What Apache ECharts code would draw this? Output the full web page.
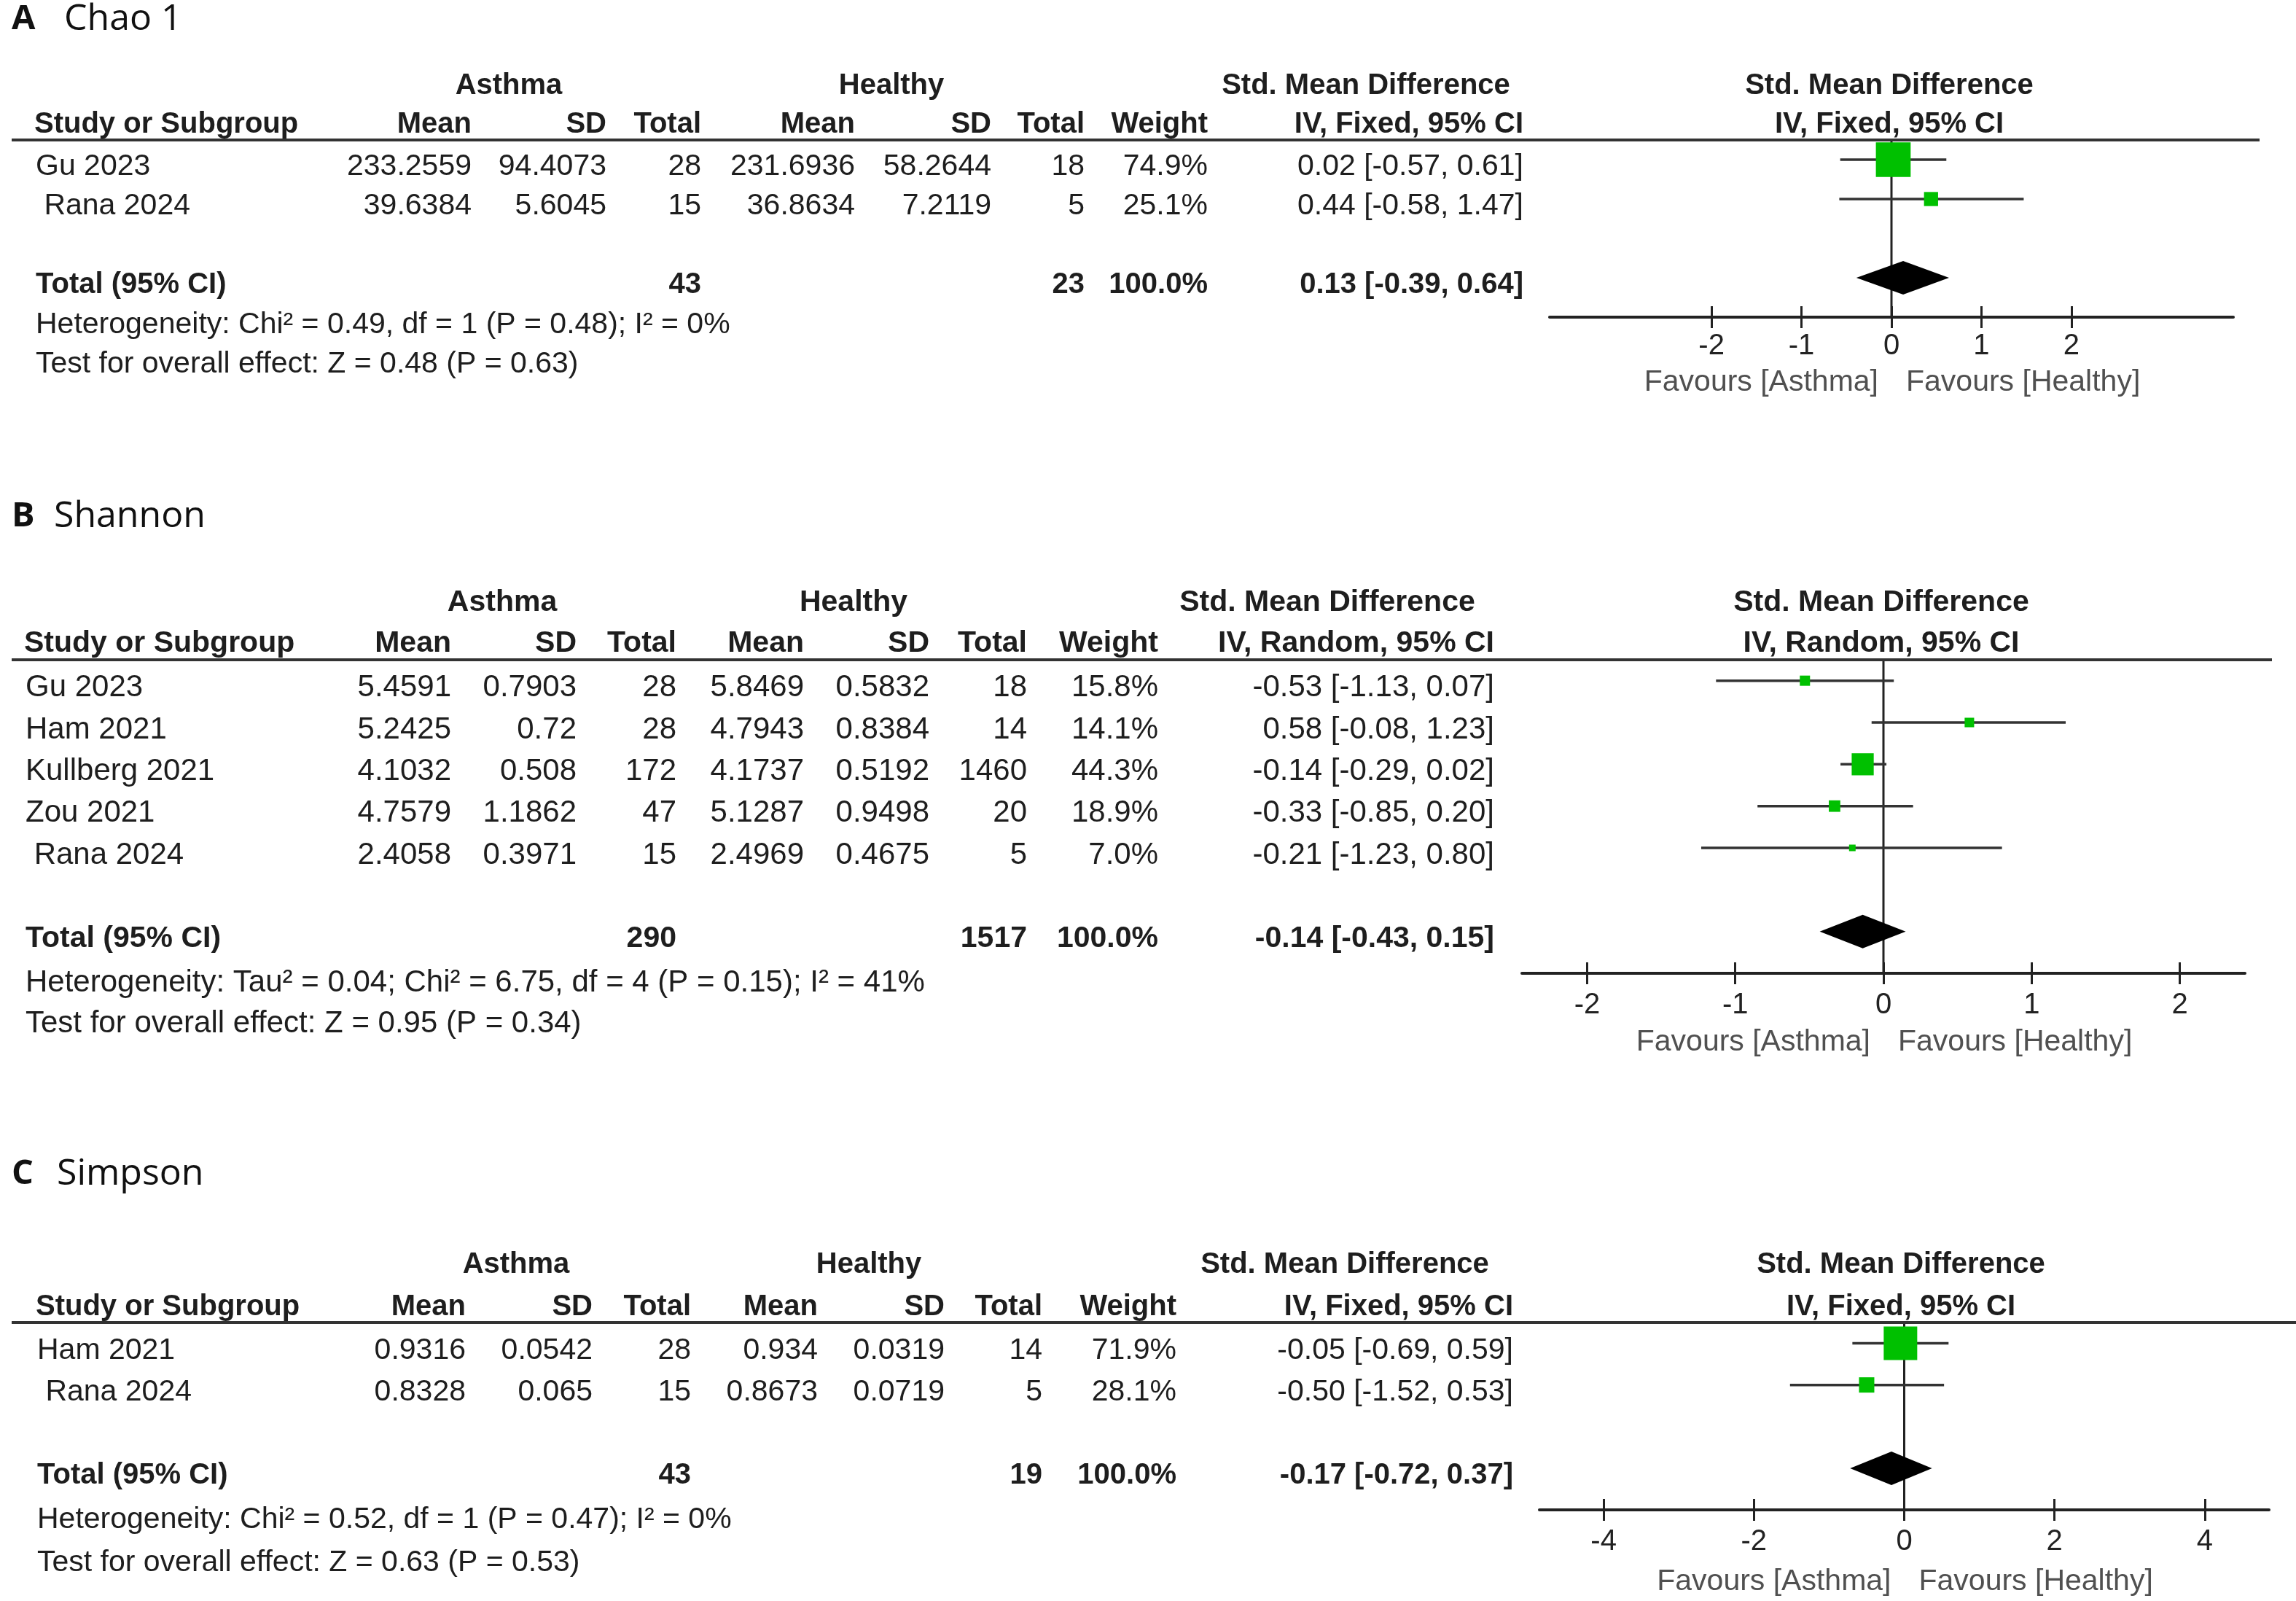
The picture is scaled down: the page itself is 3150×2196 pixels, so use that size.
<!DOCTYPE html>
<html><head><meta charset="utf-8">
<script src="https://cdn.jsdelivr.net/npm/echarts@6/dist/echarts.min.js"></script>
<style>html,body{margin:0;padding:0;background:#fff}#c{width:3150px;height:2196px}</style>
</head><body><div id="c"></div>
<script>
// ---------- Panel A: Chao 1 ----------
const studiesA = ['Gu 2023', ' Rana 2024'];
const asthmaMeanA = [233.2559, 39.6384];
const asthmaSDA = [94.4073, 5.6045];
const asthmaNA = [28, 15];
const healthyMeanA = [231.6936, 36.8634];
const healthySDA = [58.2644, 7.2119];
const healthyNA = [18, 5];
const weightA = [74.9, 25.1];
const smdA = [0.02, 0.44];
const loA = [-0.57, -0.58];
const hiA = [0.61, 1.47];
const totalA = [0.13, -0.39, 0.64];
const totalNA = [43, 23];
const hetA = 'Heterogeneity: Chi\u00b2 = 0.49, df = 1 (P = 0.48); I\u00b2 = 0%';
const testA = 'Test for overall effect: Z = 0.48 (P = 0.63)';
const ticksA = [-2, -1, 0, 1, 2];

// ---------- Panel B: Shannon ----------
const studiesB = ['Gu 2023', 'Ham 2021', 'Kullberg 2021', 'Zou 2021', ' Rana 2024'];
const asthmaMeanB = [5.4591, 5.2425, 4.1032, 4.7579, 2.4058];
const asthmaSDB = [0.7903, 0.72, 0.508, 1.1862, 0.3971];
const asthmaNB = [28, 28, 172, 47, 15];
const healthyMeanB = [5.8469, 4.7943, 4.1737, 5.1287, 2.4969];
const healthySDB = [0.5832, 0.8384, 0.5192, 0.9498, 0.4675];
const healthyNB = [18, 14, 1460, 20, 5];
const weightB = [15.8, 14.1, 44.3, 18.9, 7.0];
const smdB = [-0.53, 0.58, -0.14, -0.33, -0.21];
const loB = [-1.13, -0.08, -0.29, -0.85, -1.23];
const hiB = [0.07, 1.23, 0.02, 0.20, 0.80];
const totalB = [-0.14, -0.43, 0.15];
const totalNB = [290, 1517];
const hetB = 'Heterogeneity: Tau\u00b2 = 0.04; Chi\u00b2 = 6.75, df = 4 (P = 0.15); I\u00b2 = 41%';
const testB = 'Test for overall effect: Z = 0.95 (P = 0.34)';
const ticksB = [-2, -1, 0, 1, 2];

// ---------- Panel C: Simpson ----------
const studiesC = ['Ham 2021', ' Rana 2024'];
const asthmaMeanC = [0.9316, 0.8328];
const asthmaSDC = [0.0542, 0.065];
const asthmaNC = [28, 15];
const healthyMeanC = [0.934, 0.8673];
const healthySDC = [0.0319, 0.0719];
const healthyNC = [14, 5];
const weightC = [71.9, 28.1];
const smdC = [-0.05, -0.50];
const loC = [-0.69, -1.52];
const hiC = [0.59, 0.53];
const totalC = [-0.17, -0.72, 0.37];
const totalNC = [43, 19];
const hetC = 'Heterogeneity: Chi\u00b2 = 0.52, df = 1 (P = 0.47); I\u00b2 = 0%';
const testC = 'Test for overall effect: Z = 0.63 (P = 0.53)';
const ticksC = [-4, -2, 0, 2, 4];

const panels = [
  { letter: 'A', title: 'Chao 1', method: 'IV, Fixed, 95% CI',
    studies: studiesA, aMean: asthmaMeanA, aSD: asthmaSDA, aN: asthmaNA, hMean: healthyMeanA, hSD: healthySDA, hN: healthyNA,
    wt: weightA, smd: smdA, lo: loA, hi: hiA, tot: totalA, totN: totalNA, het: hetA, test: testA, ticks: ticksA,
    L: { top: 192, axisY: 435, left: 2126, right: 3064, lineRight: 3100, xr: 3.8, titleY: 27, titleX: 88, h1Y: 118, h2Y: 171,
         hetY: 446, testY: 500, favY: 525, lblMargin: 20, fs: 41, hfs: 40,
         c: { study: 49, aMean: 647, aSD: 832, aN: 962, hMean: 1173, hSD: 1360, hN: 1488, wt: 1657, ci: 2090 },
         h1: { asthma: 698, healthy: 1223, smd: 1874 }, pc: 2592 } },
  { letter: 'B', title: 'Shannon', method: 'IV, Random, 95% CI',
    studies: studiesB, aMean: asthmaMeanB, aSD: asthmaSDB, aN: asthmaNB, hMean: healthyMeanB, hSD: healthySDB, hN: healthyNB,
    wt: weightB, smd: smdB, lo: loB, hi: hiB, tot: totalB, totN: totalNB, het: hetB, test: testB, ticks: ticksB,
    L: { top: 905, axisY: 1335, left: 2088, right: 3080, lineRight: 3117, xr: 2.44, titleY: 709, titleX: 74, h1Y: 827, h2Y: 883,
         hetY: 1348, testY: 1404, favY: 1430, lblMargin: 24, fs: 42, hfs: 41,
         c: { study: 35, aMean: 619, aSD: 791, aN: 928, hMean: 1103, hSD: 1275, hN: 1409, wt: 1589, ci: 2050 },
         h1: { asthma: 689, healthy: 1171, smd: 1821 }, pc: 2581 } },
  { letter: 'C', title: 'Simpson', method: 'IV, Fixed, 95% CI',
    studies: studiesC, aMean: asthmaMeanC, aSD: asthmaSDC, aN: asthmaNC, hMean: healthyMeanC, hSD: healthySDC, hN: healthyNC,
    wt: weightC, smd: smdC, lo: loC, hi: hiC, tot: totalC, totN: totalNC, het: hetC, test: testC, ticks: ticksC,
    L: { top: 1814, axisY: 2071, left: 2112, right: 3113, lineRight: 3150, xr: 4.855, titleY: 1611, titleX: 78, h1Y: 1735, h2Y: 1793,
         hetY: 2085, testY: 2144, favY: 2170, lblMargin: 24, fs: 41, hfs: 40,
         c: { study: 51, aMean: 639, aSD: 813, aN: 948, hMean: 1122, hSD: 1296, hN: 1430, wt: 1614, ci: 2076 },
         h1: { asthma: 708, healthy: 1192, smd: 1845 }, pc: 2608 } }
];

const FONT = '"Liberation Sans", Arial, sans-serif';
const TXT = '#1e1e1e';
const fmtCI = (e, l, h) => e.toFixed(2) + ' [' + l.toFixed(2) + ', ' + h.toFixed(2) + ']';

const grids = [], xAxes = [], yAxes = [], series = [], graphics = [];

function txt(text, x, y, align, size, bold, color, family) {
  graphics.push({ type: 'text', silent: true, z: 10,
    style: { text: text, x: x, y: y, textAlign: align, textVerticalAlign: 'middle',
      font: (bold ? 'bold ' : '') + size + 'px ' + (family || FONT), fill: color || TXT } });
}

panels.forEach((P, k) => {
  const L = P.L, n = P.studies.length;
  const yMin = -0.5, yMax = n + 2;
  const gh = L.axisY - L.top;
  const rowY = i => L.top + (i - yMin) / (yMax - yMin) * gh + 10;

  grids.push({ left: L.left, width: L.right - L.left, top: L.top, height: gh });
  // main bottom axis: line, downward ticks, labels
  xAxes.push({ gridIndex: k, type: 'value', min: -L.xr, max: L.xr, position: 'bottom', offset: 0,
    axisLine: { show: true, onZero: false, lineStyle: { color: '#222', width: 4 } },
    axisTick: { show: true, customValues: P.ticks, length: 15, lineStyle: { color: '#222', width: 3 } },
    axisLabel: { show: true, customValues: P.ticks, margin: L.lblMargin, fontSize: 40, color: '#222', fontFamily: FONT },
    splitLine: { show: false } });
  // helper axis moved onto the bottom line: upward ticks only
  xAxes.push({ gridIndex: k, type: 'value', min: -L.xr, max: L.xr, position: 'top', offset: -gh,
    axisLine: { show: false, onZero: false },
    axisTick: { show: true, inside: false, customValues: P.ticks, length: 15, lineStyle: { color: '#222', width: 3 } },
    axisLabel: { show: false }, splitLine: { show: false } });
  yAxes.push({ gridIndex: k, type: 'value', min: yMin, max: yMax, inverse: true, show: false });

  // zero line
  series.push({ type: 'line', xAxisIndex: 2 * k, yAxisIndex: k, silent: true, symbol: 'none', z: 1,
    data: [[0, yMin], [0, yMax]], lineStyle: { color: '#222', width: 3 } });

  // study CIs and squares
  series.push({ type: 'custom', xAxisIndex: 2 * k, yAxisIndex: k, silent: true, z: 3,
    data: P.studies.map((s, i) => [P.smd[i], i, P.lo[i], P.hi[i], P.wt[i]]),
    encode: { x: [0, 2, 3], y: 1 },
    renderItem: (params, api) => {
      const y = api.value(1);
      const c = api.coord([api.value(0), y]);
      const l = api.coord([api.value(2), y]);
      const r = api.coord([api.value(3), y]);
      const sz = 5 + 0.57 * api.value(4);
      return { type: 'group', children: [
        { type: 'line', shape: { x1: l[0], y1: c[1], x2: r[0], y2: c[1] }, style: { stroke: '#333', lineWidth: 3.5 } },
        { type: 'rect', shape: { x: c[0] - sz / 2, y: c[1] - sz / 2, width: sz, height: sz }, style: { fill: '#00c000' } }
      ] };
    } });

  // pooled diamond
  series.push({ type: 'custom', xAxisIndex: 2 * k, yAxisIndex: k, silent: true, z: 4,
    data: [[P.tot[0], n + 1, P.tot[1], P.tot[2]]],
    encode: { x: [0, 2, 3], y: 1 },
    renderItem: (params, api) => {
      const y = api.value(1);
      const c = api.coord([api.value(0), y]);
      const l = api.coord([api.value(2), y]);
      const r = api.coord([api.value(3), y]);
      const hh = 23;
      return { type: 'polygon', shape: { points: [[l[0], c[1]], [c[0], c[1] - hh], [r[0], c[1]], [c[0], c[1] + hh]] },
        style: { fill: '#000' } };
    } });

  // title
  txt(P.letter, 16, L.titleY, 'left', 47, true, '#111', '"Open Sans", sans-serif');
  txt(P.title, L.titleX, L.titleY, 'left', 50, false, '#111', '"Open Sans", sans-serif');

  // headers
  const hf = L.hfs;
  txt('Asthma', L.h1.asthma, L.h1Y, 'center', hf, true);
  txt('Healthy', L.h1.healthy, L.h1Y, 'center', hf, true);
  txt('Std. Mean Difference', L.h1.smd, L.h1Y, 'center', hf, true);
  txt('Std. Mean Difference', L.pc, L.h1Y, 'center', hf, true);
  txt('Study or Subgroup', L.c.study - 2, L.h2Y, 'left', hf, true);
  txt('Mean', L.c.aMean, L.h2Y, 'right', hf, true);
  txt('SD', L.c.aSD, L.h2Y, 'right', hf, true);
  txt('Total', L.c.aN, L.h2Y, 'right', hf, true);
  txt('Mean', L.c.hMean, L.h2Y, 'right', hf, true);
  txt('SD', L.c.hSD, L.h2Y, 'right', hf, true);
  txt('Total', L.c.hN, L.h2Y, 'right', hf, true);
  txt('Weight', L.c.wt, L.h2Y, 'right', hf, true);
  txt(P.method, L.c.ci, L.h2Y, 'right', hf, true);
  txt(P.method, L.pc, L.h2Y, 'center', hf, true);

  // header rule
  graphics.push({ type: 'line', silent: true, z: 5,
    shape: { x1: 16, y1: L.top, x2: L.lineRight, y2: L.top }, style: { stroke: '#333', lineWidth: 4 } });

  // study rows
  const fs = L.fs;
  P.studies.forEach((s, i) => {
    const y = rowY(i);
    txt(s, L.c.study, y, 'left', fs);
    txt(String(P.aMean[i]), L.c.aMean, y, 'right', fs);
    txt(String(P.aSD[i]), L.c.aSD, y, 'right', fs);
    txt(String(P.aN[i]), L.c.aN, y, 'right', fs);
    txt(String(P.hMean[i]), L.c.hMean, y, 'right', fs);
    txt(String(P.hSD[i]), L.c.hSD, y, 'right', fs);
    txt(String(P.hN[i]), L.c.hN, y, 'right', fs);
    txt(P.wt[i].toFixed(1) + '%', L.c.wt, y, 'right', fs);
    txt(fmtCI(P.smd[i], P.lo[i], P.hi[i]), L.c.ci, y, 'right', fs);
  });

  // total row
  const ty = rowY(n + 1);
  txt('Total (95% CI)', L.c.study, ty, 'left', hf, true);
  txt(String(P.totN[0]), L.c.aN, ty, 'right', hf, true);
  txt(String(P.totN[1]), L.c.hN, ty, 'right', hf, true);
  txt('100.0%', L.c.wt, ty, 'right', hf, true);
  txt(fmtCI(P.tot[0], P.tot[1], P.tot[2]), L.c.ci, ty, 'right', hf, true);

  txt(P.het, L.c.study, L.hetY, 'left', fs);
  txt(P.test, L.c.study, L.testY, 'left', fs);

  // favours labels
  const zeroX = L.left + (0 + L.xr) / (2 * L.xr) * (L.right - L.left);
  txt('Favours [Asthma]', zeroX - 18, L.favY, 'right', 41, false, '#505050');
  txt('Favours [Healthy]', zeroX + 20, L.favY, 'left', 41, false, '#505050');
});

const chart = echarts.init(document.getElementById('c'), null, { renderer: 'canvas' });
chart.setOption({
  backgroundColor: '#fff',
  animation: false,
  grid: grids, xAxis: xAxes, yAxis: yAxes, series: series,
  graphic: { elements: graphics }
});
</script></body></html>
